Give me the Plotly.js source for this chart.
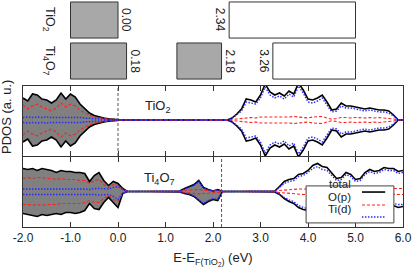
<!DOCTYPE html>
<html>
<head>
<meta charset="utf-8">
<script src="https://cdn.plot.ly/plotly-3.0.1.min.js"></script>
<style>html,body{margin:0;padding:0;background:#fff;}#chart{width:415px;height:278px;}</style>
</head>
<body>
<div id="chart"></div>
<script>
// ---------------- DATA ----------------
const energy = [-2.0,-1.9,-1.8,-1.7,-1.6,-1.5,-1.4,-1.3,-1.2,-1.1,-1.0,-0.9,-0.8,-0.7,-0.6,-0.5,-0.4,-0.3,-0.2,-0.1,
  0.0,0.1,0.2,0.3,0.4,0.5,0.6,0.7,0.8,0.9,1.0,1.1,1.2,1.3,1.4,1.5,1.6,1.7,1.8,1.9,
  2.0,2.1,2.2,2.3,2.4,2.5,2.6,2.7,2.8,2.9,3.0,3.1,3.2,3.3,3.4,3.5,3.6,3.7,3.8,3.9,
  4.0,4.1,4.2,4.3,4.4,4.5,4.6,4.7,4.8,4.9,5.0,5.1,5.2,5.3,5.4,5.5,5.6,5.7,5.8,5.9,6.0];

// TiO2 (non spin-polarised: same magnitude up and down)
const tio2Total = [22,19,26,25,21,20,17,20,27,21,26,23,16,11,7,4.5,3,2,1.3,0.7,
  0,0,0,0,0,0,0,0,0,0,0,0,0,0,0,0,0,0,0,0,0,0,0,
  0,2,6,11,21,20,18,25,36,28,25,27,24,29,26,37,30,21,20,22,25,18,10,11,17,14,14,13,12,11,12,11,10,10,9,5,0,0];
const tio2Op = [15,11,14,16,13,11,9,12,17,13,16,14,10,7,5,3,2.2,1.5,1,0.5,
  0,0,0,0,0,0,0,0,0,0,0,0,0,0,0,0,0,0,0,0,0,0,0,
  0,0.5,1,1.5,2.5,2.5,2,3,3,3,2.5,3,2.5,3,3.5,3,2.5,2,3,3,3.5,2,0.8,1.5,2.5,2.5,2,2.5,2,2,2.5,2,2.5,2,2,1,0,0];
const tio2Tid = [2.5,3,2.5,3,2.5,3,2.5,2.5,3,2.5,3,3,2.5,2,1.5,1.2,1,0.8,0.6,0.3,
  0,0,0,0,0,0,0,0,0,0,0,0,0,0,0,0,0,0,0,0,0,0,0,
  0,1.5,5,9,18,17,16,22,33,25,22,24,21,26,23,34,27,18,17,19,22,15,8,9,14,12,12,11,10,9,10,9,8,8,7,4,0,0];

// Ti4O7 (spin up / spin down magnitudes)
const ti4o7TotalUp = [23,22,23,21,23,22,21,19,21,20,20,19,19,18,10,16,19,11,6,10,8,3,0,
  0,0,0,0,0,0,0,0,0,0,
  0.5,3,5,7,11,4,2,0.5,2,0,
  0,0,0,0,0,0,0,0,0,0,
  0.5,5,10,12,13,17,18,21,26,28,25,24,18,13,14,19,17,12,13,19,22,20,21,24,23,23,20,21];
const ti4o7TotalDn = [22,23,24,25,23,24,23,22,23,21,21,22,21,19,12,17,18,11,6,11,16,2,0,
  0,0,0,0,0,0,0,0,0,0,
  0.5,2,3,5,9,13,10,8,9,0,
  0,0,0,0,0,0,0,0,0,0,
  0.5,3,7,10,12,16,18,19,22,24,22,21,17,13,14,17,16,13,14,16,18,17,16,17,15,14,16,15];
const ti4o7OpUp = [13,14,13,14,14,13,13,12,13,12,12,12,11,11,8,11,12,7,4,7,6,2,0,
  0,0,0,0,0,0,0,0,0,0,
  0.2,1,1.5,2,2,1.5,1,0.5,1,0,
  0,0,0,0,0,0,0,0,0,0,
  0.2,1,1.5,2,2,2.5,2.5,2.5,3,3,3,2.5,2.5,2,2,2.5,2.5,2,2,2.5,3,3,3,3,3,3,3,3];
const ti4o7OpDn = [13,13,14,13,14,13,13,13,12,12,12,12,12,11,9,11,11,7,4,8,10,2,0,
  0,0,0,0,0,0,0,0,0,0,
  0.2,1,1.5,2,2.5,2,1.5,1,1,0,
  0,0,0,0,0,0,0,0,0,0,
  0.2,1,1.5,2,2.5,2.5,3,3,3,3.5,3,3,2.5,2,2,2.5,3,2.5,2.5,3,3,3,3,3,3,3,3,3];
const ti4o7TidUp = [2.5,2.5,3,2.5,3,2.5,2.5,3,2.5,2.5,3,2.5,2.5,2.5,2,3,3,3,2.5,4,5,2,0,
  0,0,0,0,0,0,0,0,0,0,
  0.4,2.5,4,6,10,3.5,1.8,0.4,1.8,0,
  0,0,0,0,0,0,0,0,0,0,
  0.4,4,8,10,11,15,16,19,23,25,22,21,16,11,12,17,15,10,11,17,20,18,19,22,21,21,18,19];
const ti4o7TidDn = [3,3,2.5,3,3,3,2.5,3,3,2.5,3,3,2.5,3,2.5,3,3.5,3,3,5,8,1.5,0,
  0,0,0,0,0,0,0,0,0,0,
  0.4,1.8,2.5,4.5,8,12,9,7,8,0,
  0,0,0,0,0,0,0,0,0,0,
  0.4,2.5,6,8.5,10,14,16,17,20,22,20,19,15,11,12,15,14,11,12,14,16,15,14,15,13,12,13,13];

// band diagram (top inset)
const bandRowNames = ['Ti<sub>4</sub>O<sub>7</sub>', 'TiO<sub>2</sub>'];   // row 0, row 1
const occRow   = [1, 0, 0];
const occStart = [-1.0, -1.0, 1.24];
const occEnd   = [0.00, 0.18, 2.18];
const emptyRow   = [1, 0];
const emptyStart = [2.34, 3.26];
const emptyEnd   = [5.0, 5.0];
const fermiTiO2  = 0.00;
const fermiTi4O7 = 2.18;

const tickVals = [-2, -1, 0, 1, 2, 3, 4, 5, 6];
const tickText = ['-2.0', '-1.0', '0.0', '1.0', '2.0', '3.0', '4.0', '5.0', '6.0'];
const legendNames = ['total', 'O(p)', 'Ti(d)'];

// ---------------- STYLE ----------------
const FONT = 'Liberation Sans, Arial, Helvetica, sans-serif';
const TXT = '#222';
const cTot = '#000000', cOp = '#ff2020', cTid = '#2a2aff', cFill = '#808080';
const dOp = '3px,2px', dTid = '1.5px,1.5px';
const neg = a => a.map(v => -v);

function panelTraces(xa, ya, up, dn, opUp, opDn, tdUp, tdDn, ef) {
  const occ = energy.map((e, i) => i).filter(i => energy[i] <= ef + 0.05);
  const ex = occ.map(i => energy[i]);
  const tr = [];
  tr.push({x: ex, y: occ.map(i => up[i]), xaxis: xa, yaxis: ya, mode: 'lines', line: {width: 0, color: cFill}, hoverinfo: 'skip', showlegend: false});
  tr.push({x: ex, y: occ.map(i => -dn[i]), xaxis: xa, yaxis: ya, mode: 'lines', line: {width: 0, color: cFill}, fill: 'tonexty', fillcolor: cFill, hoverinfo: 'skip', showlegend: false});
  const ln = (y, c, d, w) => ({x: energy, y: y, xaxis: xa, yaxis: ya, mode: 'lines', line: {color: c, dash: d, width: w}, showlegend: false});
  tr.push(ln(up, cTot, 'solid', 1.6), ln(neg(dn), cTot, 'solid', 1.6));
  tr.push(ln(opUp, cOp, dOp, 1.1), ln(neg(opDn), cOp, dOp, 1.1));
  tr.push(ln(tdUp, cTid, dTid, 1.4), ln(neg(tdDn), cTid, dTid, 1.4));
  return tr;
}

const traces = [];
// top inset bars
traces.push({type: 'bar', orientation: 'h', y: occRow, base: occStart, x: occEnd.map((e, i) => e - occStart[i]),
  xaxis: 'x', yaxis: 'y3', width: 0.88, marker: {color: '#a8a8a8', line: {color: '#333', width: 1}}, hoverinfo: 'skip', showlegend: false});
traces.push({type: 'bar', orientation: 'h', y: emptyRow, base: emptyStart, x: emptyEnd.map((e, i) => e - emptyStart[i]),
  xaxis: 'x', yaxis: 'y3', width: 0.88, marker: {color: '#ffffff', line: {color: '#333', width: 1}}, hoverinfo: 'skip', showlegend: false});

traces.push(...panelTraces('x2', 'y', tio2Total, tio2Total, tio2Op, tio2Op, tio2Tid, tio2Tid, fermiTiO2));
traces.push(...panelTraces('x', 'y2', ti4o7TotalUp, ti4o7TotalDn, ti4o7OpUp, ti4o7OpDn, ti4o7TidUp, ti4o7TidDn, fermiTi4O7));

const annotations = [];
// inset labels
occEnd.forEach((e, i) => annotations.push({x: e, y: occRow[i], xref: 'x', yref: 'y3', text: e.toFixed(2), textangle: 90,
  showarrow: false, xanchor: 'center', xshift: 8, font: {family: FONT, size: 12, color: TXT}}));
emptyStart.forEach((e, i) => annotations.push({x: e, y: emptyRow[i], xref: 'x', yref: 'y3', text: e.toFixed(2), textangle: 90,
  showarrow: false, xanchor: 'center', xshift: -9, font: {family: FONT, size: 12, color: TXT}}));
bandRowNames.forEach((n, i) => annotations.push({x: -1.58, y: i, xref: 'x', yref: 'y3', xanchor: 'center', xshift: 6, text: n, textangle: 90, showarrow: false,
  font: {family: FONT, size: 12.5, color: TXT}}));
// panel labels
annotations.push({x: 0.355, y: 0.86, xref: 'x2 domain', yref: 'y domain', text: 'TiO<sub>2</sub>', showarrow: false, font: {family: FONT, size: 13, color: TXT}});
annotations.push({x: 0.36, y: 0.84, xref: 'x domain', yref: 'y2 domain', text: 'Ti<sub>4</sub>O<sub>7</sub>', showarrow: false, font: {family: FONT, size: 13, color: TXT}});
// y title
annotations.push({x: 0, xshift: -16, y: 0.3128, xref: 'paper', yref: 'paper', xanchor: 'center', text: 'PDOS (a. u.)', textangle: -90, showarrow: false, font: {family: FONT, size: 13, color: TXT}});

// manual legend (text left, sample right)
const legY = [0.154, 0.097, 0.044];
const legC = [cTot, cOp, cTid], legD = ['solid', dOp, dTid], legW = [1.6, 1.1, 1.4];
const shapes = [
  {type: 'line', xref: 'x2', yref: 'y domain', x0: fermiTiO2, x1: fermiTiO2, y0: 0, y1: 1, line: {color: '#555', width: 1, dash: '3px,2px'}},
  {type: 'line', xref: 'x', yref: 'y2 domain', x0: fermiTi4O7, x1: fermiTi4O7, y0: 0, y1: 1, line: {color: '#555', width: 1, dash: '3px,2px'}},
  {type: 'rect', xref: 'paper', yref: 'paper', x0: 0.745, x1: 0.976, y0: 0.018, y1: 0.181, fillcolor: '#fff', line: {color: '#444', width: 1}, layer: 'above'}
];
legendNames.forEach((n, i) => {
  annotations.push({x: 0.868, y: legY[i], xref: 'paper', yref: 'paper', xanchor: 'right', text: n, showarrow: false, font: {family: FONT, size: 11.5, color: TXT}});
  shapes.push({type: 'line', xref: 'paper', yref: 'paper', x0: 0.892, x1: 0.953, y0: legY[i], y1: legY[i], line: {color: legC[i], dash: legD[i], width: legW[i]}, layer: 'above'});
});

const axFrame = {showline: true, linecolor: '#333', linewidth: 1, mirror: true, showgrid: false, zeroline: false};
const layout = {
  width: 415, height: 278,
  margin: {l: 23, r: 12, t: 0, b: 51},
  paper_bgcolor: '#fff', plot_bgcolor: 'rgba(0,0,0,0)',
  barmode: 'overlay', showlegend: false,
  font: {family: FONT, color: TXT},
  xaxis: Object.assign({}, axFrame, {anchor: 'y2', range: [-2, 6], mirror: 'ticks', ticks: 'inside', ticklen: 5, tickcolor: '#333',
    tickvals: tickVals, ticktext: tickText, tickfont: {family: FONT, size: 12, color: TXT},
    title: {text: 'E-E<sub>F(TiO<sub>2</sub>)</sub> (eV)', font: {family: FONT, size: 13, color: TXT}, standoff: 8}}),
  xaxis2: Object.assign({}, axFrame, {anchor: 'y', matches: 'x', range: [-2, 6], mirror: 'ticks', ticks: 'inside', ticklen: 5, tickcolor: '#333',
    tickvals: tickVals, showticklabels: false}),
  yaxis: Object.assign({}, axFrame, {domain: [0.3128, 0.6211], anchor: 'x2', range: [-36, 34], showticklabels: false, ticks: ''}),
  yaxis2: Object.assign({}, axFrame, {domain: [0, 0.3084], anchor: 'x', range: [-35.5, 34.5], showticklabels: false, ticks: ''}),
  yaxis3: {domain: [0.6476, 1], anchor: 'x', range: [-0.463, 1.488], visible: false, fixedrange: true},
  annotations: annotations,
  shapes: shapes
};
Plotly.newPlot('chart', traces, layout, {staticPlot: true, displayModeBar: false});
</script>
</body>
</html>
